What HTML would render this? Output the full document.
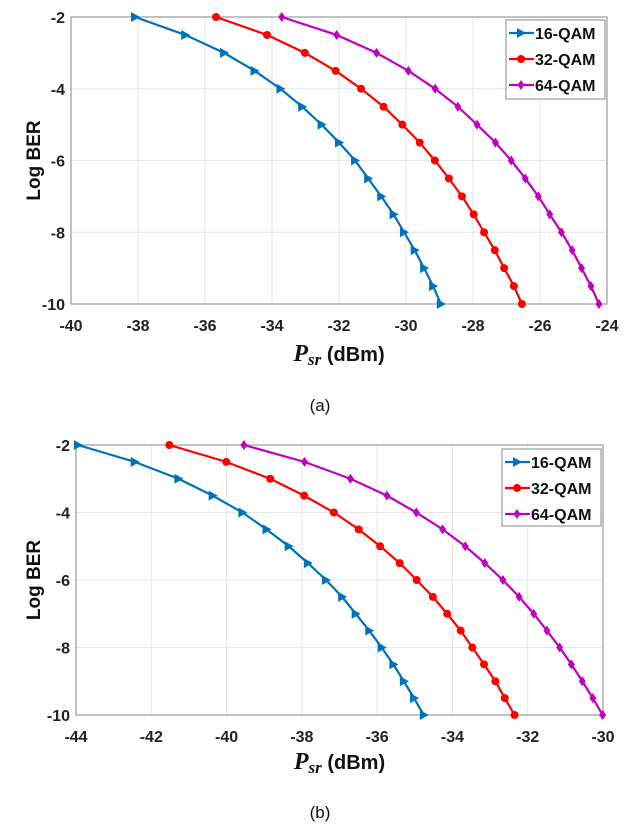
<!DOCTYPE html>
<html><head><meta charset="utf-8"><style>
body{margin:0;background:#fff;}
svg text{font-family:"Liberation Sans",Arial,sans-serif;}
</style></head><body>
<svg id="fig" width="630" height="830" viewBox="0 0 630 830" xmlns="http://www.w3.org/2000/svg"></svg>
<script>
const yVals = [-2,-2.5,-3,-3.5,-4,-4.5,-5,-5.5,-6,-6.5,-7,-7.5,-8,-8.5,-9,-9.5,-10];
const seriesNames = ["16-QAM","32-QAM","64-QAM"];
const aQam16 = [-38.09,-36.59,-35.43,-34.52,-33.75,-33.10,-32.52,-32.0,-31.52,-31.13,-30.74,-30.37,-30.06,-29.74,-29.46,-29.19,-28.96];
const aQam32 = [-35.67,-34.15,-33.02,-32.10,-31.34,-30.67,-30.11,-29.59,-29.14,-28.72,-28.33,-27.98,-27.67,-27.35,-27.07,-26.78,-26.54];
const aQam64 = [-33.71,-32.07,-30.88,-29.93,-29.13,-28.45,-27.88,-27.33,-26.86,-26.44,-26.05,-25.71,-25.36,-25.04,-24.76,-24.48,-24.24];
const bQam16 = [-43.95,-42.44,-41.28,-40.37,-39.58,-38.94,-38.35,-37.84,-37.36,-36.93,-36.57,-36.21,-35.88,-35.57,-35.29,-35.02,-34.76];
const bQam32 = [-41.52,-40.01,-38.84,-37.94,-37.15,-36.49,-35.92,-35.40,-34.95,-34.52,-34.14,-33.78,-33.47,-33.16,-32.86,-32.61,-32.35];
const bQam64 = [-39.54,-37.93,-36.71,-35.74,-34.96,-34.26,-33.66,-33.14,-32.66,-32.23,-31.84,-31.49,-31.15,-30.84,-30.55,-30.27,-30.01];
const aXTicks = [-40,-38,-36,-34,-32,-30,-28,-26,-24];
const bXTicks = [-44,-42,-40,-38,-36,-34,-32,-30];
const yTicks = [-2,-4,-6,-8,-10];

const NS="http://www.w3.org/2000/svg";
const svg=document.getElementById('fig');
const colors=["#0072BD","#FF0000","#BF00BF"];
function mk(tag,attrs,parent){const e=document.createElementNS(NS,tag);for(const k in attrs)e.setAttribute(k,attrs[k]);(parent||svg).appendChild(e);return e;}
function marker(g,kind,x,y,c){
  let m;
  if(kind===0){m=mk('polygon',{points:`${x-4},${y-5} ${x+5},${y} ${x-4},${y+5}`,fill:c},g);}
  else if(kind===1){m=mk('circle',{cx:x,cy:y,r:4,fill:c},g);}
  else {m=mk('polygon',{points:`${x},${y-5} ${x+3.5},${y} ${x},${y+5} ${x-3.5},${y}`,fill:c},g);}
  
  
}
function panel(id,L,R,T,B,xmin,xmax,xTicks,series,leg,titleY,capY,cap){
  const g=mk('g',{});
  
  
  const sx=v=>L+(v-xmin)/(xmax-xmin)*(R-L);
  const sy=v=>T+(-2-v)/8*(B-T);
  mk('rect',{x:L,y:T,width:R-L,height:B-T,fill:'#fff'},g);
  xTicks.forEach(t=>{const x=sx(t);
    mk('line',{x1:x,y1:T,x2:x,y2:B,stroke:'#e6e6e6','stroke-width':1},g);
    const tx=mk('text',{x:x,y:B+27,'text-anchor':'middle','font-size':16,'font-weight':'bold',fill:'#222'},g);
    tx.textContent=t;
    
    
  });
  yTicks.forEach(t=>{const y=sy(t);
    mk('line',{x1:L,y1:y,x2:R,y2:y,stroke:'#e6e6e6','stroke-width':1},g);
    const ty=mk('text',{x:L-6,y:y+6,'text-anchor':'end','font-size':16,'font-weight':'bold',fill:'#222'},g);
    ty.textContent=t;
    
    
  });
  mk('rect',{x:L,y:T,width:R-L,height:B-T,fill:'none',stroke:'#999','stroke-width':1.2},g);
  series.forEach((s,i)=>{
    const pts=s.map((v,j)=>sx(v)+','+sy(yVals[j])).join(' ');
    const pl=mk('polyline',{points:pts,fill:'none',stroke:colors[i],'stroke-width':2.2},g);
    
    
    s.forEach((v,j)=>marker(g,i,sx(v),sy(yVals[j]),colors[i]));
  });
  const lg=mk('g',{},g);
  
  
  mk('rect',{x:leg[0],y:leg[1],width:leg[2],height:leg[3],fill:'#fff',stroke:'#888','stroke-width':1},lg);
  seriesNames.forEach((n,i)=>{
    const y=leg[1]+13+i*26;
    mk('line',{x1:leg[0]+3,y1:y,x2:leg[0]+28,y2:y,stroke:colors[i],'stroke-width':2.2},lg);
    marker(lg,i,leg[0]+15,y,colors[i]);
    const t=mk('text',{x:leg[0]+29,y:y+6,'font-size':16,'font-weight':'bold',fill:'#111'},lg);
    t.textContent=n;
    
    
  });
  const yl=mk('text',{x:0,y:0,transform:`translate(40,${(T+B)/2}) rotate(-90)`,'text-anchor':'middle','font-size':19,'font-weight':'bold',fill:'#111'},g);
  yl.textContent='Log BER';
  
  
  const xl=mk('text',{x:(L+R)/2,y:titleY,'text-anchor':'middle','font-size':20,'font-weight':'bold',fill:'#111'},g);
  xl.innerHTML='<tspan font-family="Liberation Serif,serif" font-style="italic" font-size="24">P</tspan><tspan font-family="Liberation Serif,serif" font-style="italic" font-size="17" dy="4">sr</tspan><tspan dy="-4"> (dBm)</tspan>';
  
  
  const c=mk('text',{x:320,y:capY,'text-anchor':'middle','font-size':17,'font-family':'Liberation Serif,serif',fill:'#111'},g);
  c.textContent=cap;
  
  
}
panel('a',71,607,17,304,-40,-24,aXTicks,[aQam16,aQam32,aQam64],[506,20,99,79],361,411,'(a)');
panel('b',76,603,445,715,-44,-30,bXTicks,[bQam16,bQam32,bQam64],[502,449,99,77],769,818,'(b)');
</script>
</body></html>
